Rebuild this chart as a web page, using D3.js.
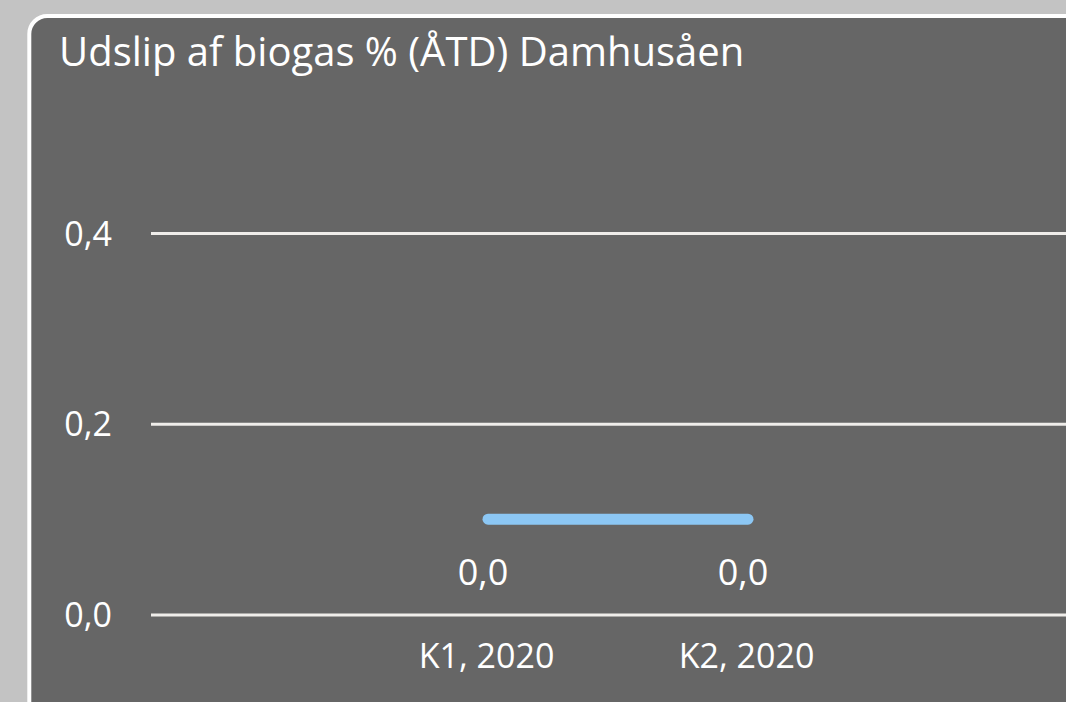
<!DOCTYPE html>
<html>
<head>
<meta charset="utf-8">
<script src="https://cdn.jsdelivr.net/npm/d3@7"></script>
<style>
  html, body { margin: 0; padding: 0; background: #c3c3c3; overflow: hidden; }
  svg { display: block; font-family: 'Open Sans', sans-serif; }
</style>
</head>
<body>
<script>
// data
const title = 'Udslip af biogas % (ÅTD) Damhusåen'
const categories = ['K1, 2020', 'K2, 2020']
const values = [0.1, 0.1]
const valueLabels = ['0,0', '0,0']
const yTicks = [0, 0.2, 0.4]

const width = 1066
const height = 702

const svg = d3.select('body').append('svg').attr('width', width).attr('height', height)

// panel med hvid kant
svg
  .append('rect')
  .attr('x', 29.3)
  .attr('y', 16)
  .attr('width', 1200)
  .attr('height', 900)
  .attr('rx', 18)
  .attr('fill', '#666666')
  .attr('stroke', '#ffffff')
  .attr('stroke-width', 4)

svg
  .append('text')
  .attr('x', 59)
  .attr('y', 66)
  .attr('fill', '#ffffff')
  .attr('font-size', 40)
  .text(title)

// skalaer
const plotLeft = 151
const y = d3.scaleLinear().domain([0, 0.4]).range([614.5, 233.1])
const x = d3.scalePoint().domain(categories).range([plotLeft + 337, plotLeft + 597])

// gitterlinjer + y-etiketter
const yAxis = svg
  .append('g')
  .attr('transform', `translate(${plotLeft},0)`)
  .call(
    d3
      .axisLeft(y)
      .tickValues(yTicks)
      .tickSize(-(width - plotLeft + 20))
      .tickPadding(39)
      .tickFormat((d) => d3.format('.1f')(d).replace('.', ','))
  )
yAxis.select('.domain').remove()
yAxis.selectAll('.tick line').attr('stroke', '#efedea').attr('stroke-width', 3)
yAxis
  .selectAll('.tick text')
  .attr('fill', '#ffffff')
  .attr('font-size', 34)
  .attr('font-family', "'Open Sans', sans-serif")
  .attr('dy', '0.35em')

// x-etiketter
const xAxis = svg
  .append('g')
  .attr('transform', `translate(0,${y(0)})`)
  .call(d3.axisBottom(x).tickSize(0).tickPadding(0))
xAxis.select('.domain').remove()
xAxis
  .selectAll('.tick text')
  .attr('fill', '#ffffff')
  .attr('font-size', 34)
  .attr('font-family', "'Open Sans', sans-serif")
  .attr('dy', null)
  .attr('y', 53.5)
  .attr('dx', -2)

// linje
const line = d3
  .line()
  .x((d, i) => x(categories[i]))
  .y((d) => y(d))

svg
  .append('path')
  .datum(values)
  .attr('d', line)
  .attr('fill', 'none')
  .attr('stroke', '#8cc7f4')
  .attr('stroke-width', 11)
  .attr('stroke-linecap', 'round')
  .attr('stroke-linejoin', 'round')

// dataetiketter
svg
  .selectAll('.vlabel')
  .data(values)
  .enter()
  .append('text')
  .attr('class', 'vlabel')
  .attr('x', (d, i) => x(categories[i]) - 5)
  .attr('y', (d) => y(d) + 65.5)
  .attr('text-anchor', 'middle')
  .attr('fill', '#ffffff')
  .attr('font-size', 36)
  .text((d, i) => valueLabels[i])
</script>
</body>
</html>
